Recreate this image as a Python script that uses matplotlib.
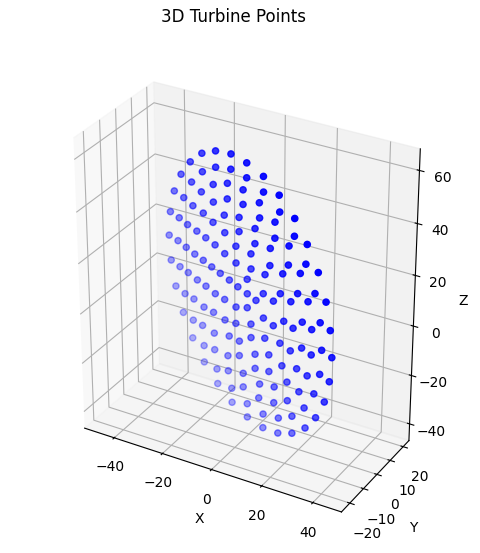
import numpy as np
import matplotlib
matplotlib.use('Agg')
import matplotlib.pyplot as plt

# point coordinates, in tenths of an axis unit
x_tenths = [-203,-114,-21,69,-286,-126,-215,-33,59,-359,-294,-154,-64,29,-420,-238,-361,-167,-76,19,-305,-467,-242,-107,-15,-410,-185,-358,-117,-25,-301,-497,-246,-440,159,151,240,119,233,111,
200,316,76,190,304,-388,-190,-55,-335,-133,34,-507,-282,-67,-450,-230,-397,-178,-123,-7,-340,-285,-72,-498,-440,-228,
-17,-381,-169,-100,-27,-317,-470,-255,-184,-405,-113,-343,-15,-268,-168,-426,-104,66,156,268,373,24,143,253,355,107,215,318,420,84,188,291,391,34,141,246,347,449,68,192,
302,406,125,244,353,459,-25,63,-352,-280,-193,-116,-11,77,-365,-281,-203,-103,-21,67,-289,-194,-114,-3,-204,-100,-19,-110,-2,-14,155,214,284,337,400,454,153,242,300,376,
428,174,89,242,330,388,76,164,263,328,95,183,257,81,172]
y_tenths = [32,-27,-84,-136,92,-7,54,-65,-119,149,112,23,-35,-91,201,84,168,45,-16,-74,137,248,102,16,-42,215,72,186,36,-25,155,285,124,253,-184,-169,-224,-140,-207,-124,
-179,-257,-93,-161,-236,224,93,5,195,62,-47,312,165,26,280,136,250,107,76,-1,219,187,47,327,296,156,17,261,121,82,34,225,331,188,148,294,103,257,39,214,
150,323,112,-76,-131,-206,-276,-29,-110,-182,-250,-79,-151,-219,-286,-50,-118,-186,-252,-12,-81,-150,-217,-284,-20,-100,-172,-241,-52,-129,-200,-270,57,-1,281,236,183,132,61,3,
303,253,202,137,79,22,271,211,156,80,230,161,102,179,104,124,-59,-92,-141,-171,-216,-246,-40,-97,-129,-182,-211,-41,21,-79,-135,-168,42,-19,-79,-116,42,-19,-59,64,
2]
z_tenths = [577,634,671,684,497,561,494,603,619,405,408,475,529,554,300,397,304,394,458,489,301,183,305,373,416,189,298,189,293,351,193,62,196,70,679,613,650,552,579,486,
520,601,422,449,523,71,198,272,72,194,292,-57,76,193,-53,78,-48,81,85,159,-47,-41,87,-171,-171,-40,90,-159,-29,-20,23,-156,-277,-141,-131,-272,-101,-257,-42,-245,
-194,-369,-176,354,387,463,531,222,308,376,441,248,317,381,446,153,217,281,343,93,156,219,282,344,37,102,168,232,40,105,169,233,-109,-55,-358,-330,-301,-250,-175,-120,
-444,-422,-378,-323,-246,-201,-497,-455,-394,-306,-529,-464,-381,-534,-445,-518,-17,-12,46,51,112,116,-118,-72,-65,-7,-4,-177,-257,-174,-124,-120,-338,-268,-233,-231,-396,-326,-328,-476,
-412]

x = np.array(x_tenths) / 10
y = np.array(y_tenths) / 10
z = np.array(z_tenths) / 10

fig = plt.figure(figsize=(4.81, 5.53), dpi=100)
ax = fig.add_subplot(111, projection='3d')
S = 461
ax.set_box_aspect((103.5, 50.5, 115))
ax.set_position([(239.9 - S / 2) / 481, (553 - 69.5 - S) / 553, S / 481, S / 553])
ax.scatter(x, y, z, c='b', s=20)
ax.set_xlim(-52.5, 51)
ax.set_ylim(-26, 24.5)
ax.set_zlim(-47, 68)
ax.set_xlabel('X')
ax.set_ylabel('Y')
ax.set_zlabel('Z')
fig.suptitle('3D Turbine Points', x=234 / 481, y=1 - 8 / 553, va='top', fontsize=12)
fig.savefig('out.png', dpi=100)
